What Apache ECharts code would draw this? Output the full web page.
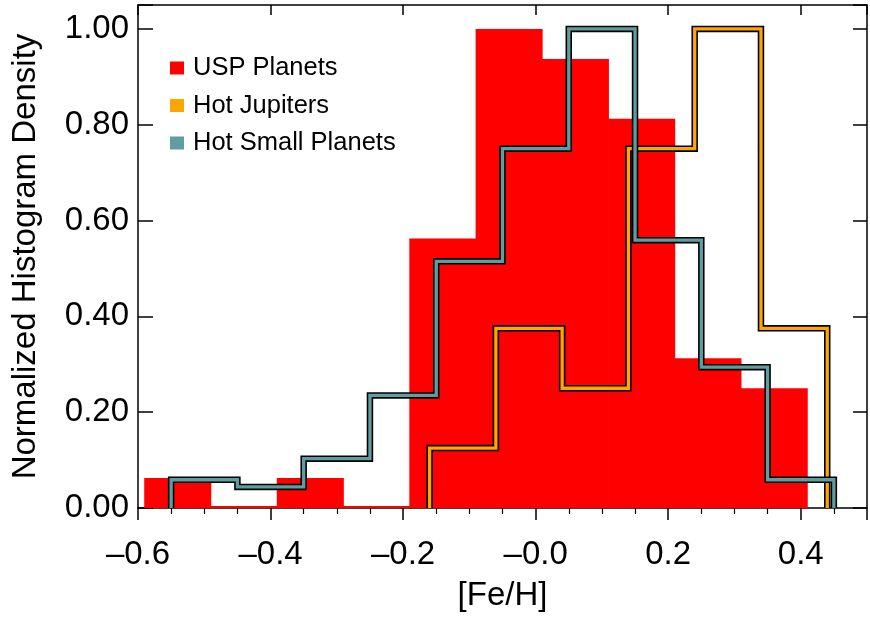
<!DOCTYPE html>
<html>
<head>
<meta charset="utf-8">
<script src="https://cdn.jsdelivr.net/npm/echarts@6/dist/echarts.min.js"></script>
<style>html,body{margin:0;padding:0;background:#fff}#c{width:870px;height:617px}</style>
</head>
<body>
<div id="c"></div>
<script>
// ---- data ----
var uspEdges = [-0.59, -0.49, -0.39, -0.29, -0.19, -0.09, 0.01, 0.11, 0.21, 0.31, 0.41];
var uspValues = [0.0625, 0, 0.0625, 0, 0.5625, 1.0, 0.9375, 0.8125, 0.3125, 0.25];

var hjEdges = [-0.16, -0.06, 0.04, 0.14, 0.24, 0.34, 0.44];
var hjValues = [0.125, 0.375, 0.25, 0.75, 1.0, 0.375];

var hspEdges = [-0.55, -0.45, -0.35, -0.25, -0.15, -0.05, 0.05, 0.15, 0.25, 0.35, 0.45];
var hspValues = [0.059, 0.044, 0.103, 0.235, 0.515, 0.75, 1.0, 0.559, 0.294, 0.059];

var seriesNames = ['USP Planets', 'Hot Jupiters', 'Hot Small Planets'];
var xTickValues = [-0.6, -0.4, -0.2, 0.0, 0.2, 0.4];
var xTickLabels = ['\u20130.6', '\u20130.4', '\u20130.2', '\u20130.0', '0.2', '0.4'];
var yTickValues = [0, 0.2, 0.4, 0.6, 0.8, 1.0];
var yTickLabels = ['0.00', '0.20', '0.40', '0.60', '0.80', '1.00'];

// ---- helpers ----
function stepPoints(edges, vals) {
  var pts = [[edges[0], 0]];
  for (var i = 0; i < vals.length; i++) {
    pts.push([edges[i], vals[i]]);
    pts.push([edges[i + 1], vals[i]]);
  }
  pts.push([edges[edges.length - 1], 0]);
  return pts;
}
function barData(edges, vals) {
  var d = [];
  for (var i = 0; i < vals.length; i++) d.push([edges[i], edges[i + 1], vals[i]]);
  return d;
}
function lookup(vals, labels, v) {
  for (var i = 0; i < vals.length; i++) if (Math.abs(vals[i] - v) < 1e-6) return labels[i];
  return '';
}

var FONT = "'Liberation Sans', Arial, Helvetica, sans-serif";
var RED = '#FF0000', ORANGE = '#FFA500', TEAL = '#5F9EA0';

var chart = echarts.init(document.getElementById('c'), null, {renderer: 'canvas'});
function axisLine() { return {show: true, onZero: false, lineStyle: {color: '#000', width: 1.5}}; }

var option = {
  animation: false,
  backgroundColor: '#fff',
  textStyle: {fontFamily: FONT},
  grid: {left: 138, right: 2, top: 5, bottom: 101, containLabel: false},
  legend: {
    orient: 'vertical', left: 165, top: 50, itemGap: 11.5,
    itemWidth: 14, itemHeight: 13, icon: 'rect',
    data: seriesNames,
    selectedMode: false,
    itemStyle: {borderWidth: 0},
    lineStyle: {width: 0},
    textStyle: {fontFamily: FONT, fontSize: 25.5, color: '#000', lineHeight: 25, padding: [0, 0, 0, 4]}
  },
  xAxis: [{
    type: 'value', position: 'bottom', min: -0.6, max: 0.5, interval: 0.2,
    axisLine: axisLine(), splitLine: {show: false},
    axisTick: {show: true, inside: false, length: 12, lineStyle: {color: '#000', width: 1.5}},
    minorTick: {show: true, splitNumber: 4, length: 6, lineStyle: {color: '#000', width: 1.2}},
    axisLabel: {
      margin: 30, fontSize: 33, color: '#000', fontFamily: FONT,
      formatter: function (v) { return lookup(xTickValues, xTickLabels, v); }
    },
    name: '[Fe/H]', nameLocation: 'middle', nameGap: 71,
    nameTextStyle: {fontSize: 33, color: '#000', fontFamily: FONT}
  }, {
    type: 'value', position: 'top', min: -0.6, max: 0.5, interval: 0.2,
    axisLine: axisLine(), splitLine: {show: false},
    axisTick: {show: true, inside: true, length: 10, lineStyle: {color: '#000', width: 1.5}},
    axisLabel: {show: false}
  }],
  yAxis: [{
    type: 'value', position: 'left', min: 0, max: 1.05, interval: 0.2,
    axisLine: axisLine(), splitLine: {show: false},
    axisTick: {show: true, inside: true, length: 15, lineStyle: {color: '#000', width: 1.5}},
    axisLabel: {
      margin: 9, fontSize: 33, color: '#000', fontFamily: FONT,
      formatter: function (v) { return lookup(yTickValues, yTickLabels, v); }
    },
    name: 'Normalized Histogram Density', nameLocation: 'middle', nameGap: 96, nameRotate: 90,
    nameTextStyle: {fontSize: 33, color: '#000', fontFamily: FONT}
  }, {
    type: 'value', position: 'right', min: 0, max: 1.05, interval: 0.2,
    axisLine: axisLine(), splitLine: {show: false},
    axisTick: {show: true, inside: true, length: 14, lineStyle: {color: '#000', width: 1.5}},
    axisLabel: {show: false}
  }],
  series: [
    {
      name: seriesNames[0], type: 'custom', z: 2,
      itemStyle: {color: RED},
      encode: {x: [0, 1], y: 2},
      data: barData(uspEdges, uspValues),
      renderItem: function (params, api) {
        var p0 = api.coord([api.value(0), api.value(2)]);
        var p1 = api.coord([api.value(1), 0]);
        var h = p1[1] - p0[1];
        if (h < 2) { h = 2; p0[1] = p1[1] - 2; }
        return {type: 'rect', shape: {x: p0[0] - 0.4, y: p0[1], width: p1[0] - p0[0] + 0.8, height: h},
                style: {fill: RED}};
      }
    },
    {
      name: 'hj-outline', type: 'line', z: 3, symbol: 'none', silent: true,
      data: stepPoints(hjEdges, hjValues),
      lineStyle: {color: '#000', width: 6.5, join: 'miter', cap: 'butt'}
    },
    {
      name: seriesNames[1], type: 'line', z: 3, symbol: 'none',
      color: ORANGE,
      data: stepPoints(hjEdges, hjValues),
      lineStyle: {color: ORANGE, width: 3.3, join: 'miter', cap: 'butt'}
    },
    {
      name: 'hsp-outline', type: 'line', z: 4, symbol: 'none', silent: true,
      data: stepPoints(hspEdges, hspValues),
      lineStyle: {color: '#000', width: 6.5, join: 'miter', cap: 'butt'}
    },
    {
      name: seriesNames[2], type: 'line', z: 4, symbol: 'none',
      color: TEAL,
      data: stepPoints(hspEdges, hspValues),
      lineStyle: {color: TEAL, width: 3.3, join: 'miter', cap: 'butt'}
    }
  ]
};
chart.setOption(option);
</script>
</body>
</html>
